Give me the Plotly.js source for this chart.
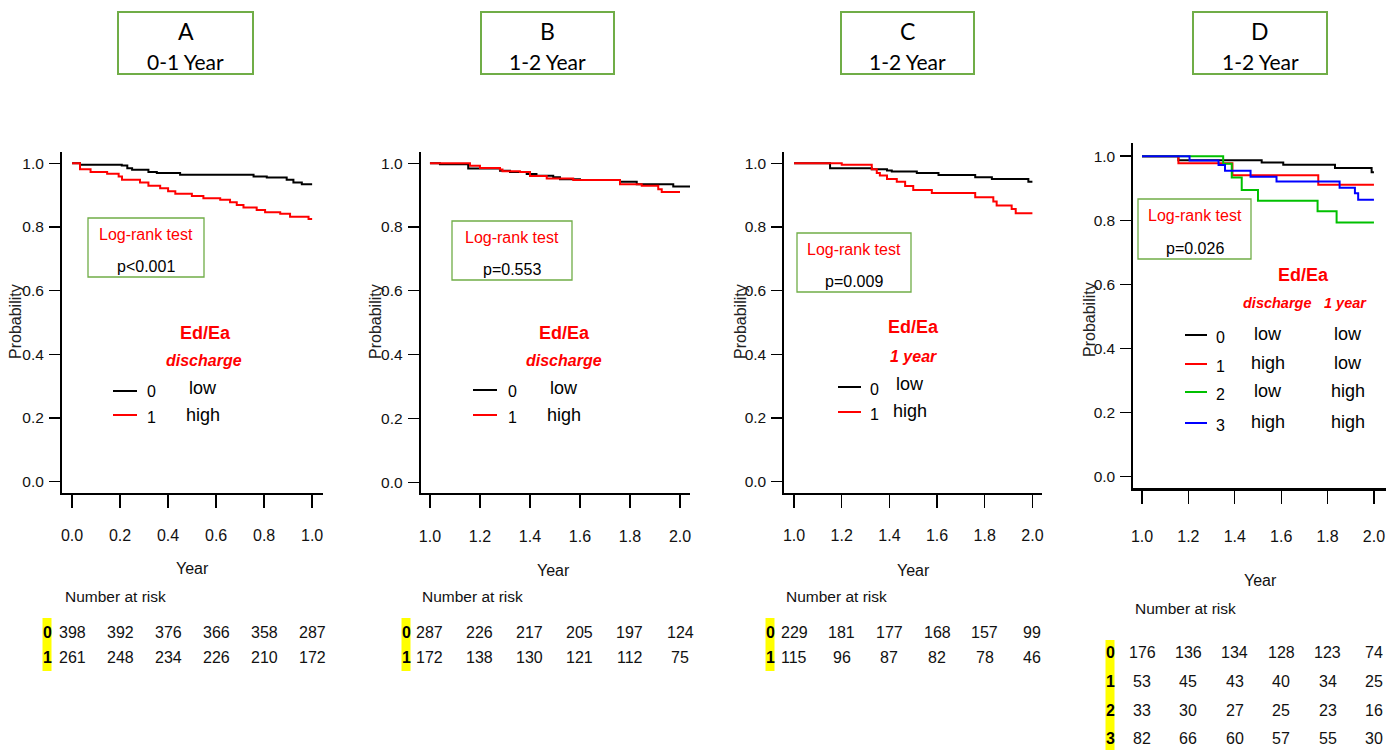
<!DOCTYPE html>
<html>
<head>
<meta charset="utf-8">
<script src="https://cdn.plot.ly/plotly-3.0.1.min.js"></script>
<style>html,body{margin:0;padding:0;background:#fff;}#chart{width:1386px;height:750px;}</style>
</head>
<body>
<div id="chart"></div>
<script>
// ---------- data ----------
// Panel A (0-1 year, Ed/Ea discharge)
const aT0 = [0, 0.033, 0.207, 0.23, 0.25, 0.318, 0.353, 0.45, 0.756, 0.811, 0.894, 0.922, 0.957, 1.0];
const aS0 = [1.0, 0.995, 0.993, 0.984, 0.979, 0.972, 0.969, 0.964, 0.958, 0.955, 0.948, 0.939, 0.934, 0.934];
const aT1 = [0, 0.033, 0.077, 0.146, 0.194, 0.208, 0.283, 0.318, 0.367, 0.40, 0.43, 0.499, 0.547, 0.617, 0.658, 0.686, 0.714, 0.769, 0.804, 0.867, 0.908, 0.985, 1.0];
const aS1 = [1.0, 0.981, 0.972, 0.967, 0.958, 0.948, 0.939, 0.929, 0.921, 0.912, 0.904, 0.897, 0.890, 0.885, 0.877, 0.869, 0.861, 0.853, 0.846, 0.841, 0.832, 0.825, 0.825];
// Panel B (1-2 year, Ed/Ea discharge)
const bT0 = [1.0, 1.04, 1.153, 1.28, 1.32, 1.387, 1.426, 1.493, 1.52, 1.6, 1.76, 1.827, 1.973, 2.04];
const bS0 = [1.0, 0.997, 0.983, 0.976, 0.972, 0.966, 0.961, 0.956, 0.950, 0.947, 0.942, 0.934, 0.927, 0.927];
const bT1 = [1.0, 1.16, 1.2, 1.28, 1.29, 1.36, 1.4, 1.467, 1.573, 1.76, 1.847, 1.913, 1.927, 2.0];
const bS1 = [1.0, 0.992, 0.985, 0.98, 0.975, 0.972, 0.96, 0.952, 0.947, 0.934, 0.929, 0.918, 0.910, 0.910];
// Panel C (1-2 year, Ed/Ea 1 year)
const cT0 = [1.0, 1.151, 1.326, 1.39, 1.41, 1.515, 1.606, 1.76, 1.83, 1.983, 2.0];
const cS0 = [1.0, 0.984, 0.981, 0.977, 0.974, 0.969, 0.963, 0.956, 0.950, 0.942, 0.942];
const cT1 = [1.0, 1.2, 1.326, 1.347, 1.36, 1.39, 1.431, 1.466, 1.5, 1.578, 1.76, 1.836, 1.85, 1.913, 1.93, 2.0];
const cS1 = [1.0, 0.995, 0.981, 0.969, 0.961, 0.950, 0.942, 0.928, 0.916, 0.906, 0.893, 0.880, 0.867, 0.856, 0.843, 0.843];
// Panel D (1-2 year, 4 groups)
const dT0 = [1.0, 1.157, 1.516, 1.609, 1.832, 1.99, 2.0];
const dS0 = [1.0, 0.987, 0.980, 0.973, 0.963, 0.950, 0.950];
const dT1 = [1.0, 1.157, 1.39, 1.76, 2.0];
const dS1 = [1.0, 0.978, 0.94, 0.911, 0.911];
const dT2 = [1.0, 1.35, 1.387, 1.43, 1.50, 1.757, 1.839, 2.0];
const dS2 = [1.0, 0.976, 0.933, 0.894, 0.861, 0.828, 0.793, 0.793];
const dT3 = [1.0, 1.205, 1.33, 1.358, 1.468, 1.58, 1.852, 1.918, 1.932, 2.0];
const dS3 = [1.0, 0.986, 0.972, 0.954, 0.936, 0.921, 0.901, 0.884, 0.864, 0.864];

// tick values / labels
const yTickVals = [0, 0.2, 0.4, 0.6, 0.8, 1.0];
const yTickText = ["0.0", "0.2", "0.4", "0.6", "0.8", "1.0"];
const xTickValsA = [0, 0.2, 0.4, 0.6, 0.8, 1.0];
const xTickTextA = ["0.0", "0.2", "0.4", "0.6", "0.8", "1.0"];
const xTickValsB = [1.0, 1.2, 1.4, 1.6, 1.8, 2.0];
const xTickTextB = ["1.0", "1.2", "1.4", "1.6", "1.8", "2.0"];

// numbers at risk
const riskA = [[398, 392, 376, 366, 358, 287], [261, 248, 234, 226, 210, 172]];
const riskB = [[287, 226, 217, 205, 197, 124], [172, 138, 130, 121, 112, 75]];
const riskC = [[229, 181, 177, 168, 157, 99], [115, 96, 87, 82, 78, 46]];
const riskD = [[176, 136, 134, 128, 123, 74], [53, 45, 43, 40, 34, 25], [33, 30, 27, 25, 23, 16], [82, 66, 60, 57, 55, 30]];

const panelLetters = ["A", "B", "C", "D"];
const panelPeriods = ["0-1 Year", "1-2 Year", "1-2 Year", "1-2 Year"];
const pValues = ["p&lt;0.001", "p=0.553", "p=0.009", "p=0.026"];
const groupColors = ["#000000", "#FF0000", "#00C000", "#0000FF"];

// ---------- layout helpers ----------
const W = 1386, H = 750;
const X = px => px / W;
const Y = py => 1 - py / H;
const NF = "'Liberation Sans', Arial, sans-serif";
const SF = "'Liberation Sans', Arial, sans-serif";
const CF = "Lato, 'Open Sans', sans-serif";
const GREEN = "#70AD47";

const panels = [
  {xa: "x", ya: "y", xd: [62, 322.7], yd: [151.7, 492.7], xr: [-0.042, 1.044], yr: [-0.0345, 1.036], tv: xTickValsA, tt: xTickTextA,
   curves: [[aT0, aS0], [aT1, aS1]], risk: riskA},
  {xa: "x2", ya: "y2", xd: [420.7, 690], yd: [151.7, 493.3], xr: [0.963, 2.04], yr: [-0.0345, 1.036], tv: xTickValsB, tt: xTickTextB,
   curves: [[bT0, bS0], [bT1, bS1]], risk: riskB},
  {xa: "x3", ya: "y3", xd: [784.3, 1041.7], yd: [151.7, 492.7], xr: [0.959, 2.039], yr: [-0.0345, 1.036], tv: xTickValsB, tt: xTickTextB,
   curves: [[cT0, cS0], [cT1, cS1]], risk: riskC},
  {xa: "x4", ya: "y4", xd: [1133.3, 1386], yd: [143.3, 488.3], xr: [0.9625, 2.052], yr: [-0.036, 1.04], tv: xTickValsB, tt: xTickTextB,
   curves: [[dT0, dS0], [dT1, dS1], [dT2, dS2], [dT3, dS3]], risk: riskD}
];

const traces = [];
const layout = {
  width: W, height: H, margin: {l: 0, r: 0, t: 0, b: 0},
  paper_bgcolor: "#fff", plot_bgcolor: "#fff", showlegend: false,
  annotations: [], shapes: []
};

panels.forEach((p, i) => {
  p.curves.forEach((c, g) => {
    traces.push({x: c[0], y: c[1], xaxis: p.xa, yaxis: p.ya, type: "scatter", mode: "lines",
      line: {shape: "hv", color: groupColors[g], width: 2}, hoverinfo: "skip"});
  });
  const sfx = i === 0 ? "" : String(i + 1);
  layout["xaxis" + sfx] = {
    domain: [X(p.xd[0]), X(p.xd[1])], range: p.xr, anchor: p.ya,
    showgrid: false, zeroline: false, showline: true, linecolor: "#000", linewidth: i === 3 ? 3 : 2,
    ticks: "outside", ticklen: 13, tickwidth: 1.3, tickcolor: "#000",
    tickvals: p.tv, ticktext: p.tt, ticklabelstandoff: i === 3 ? 18 : 14, ticklabeloverflow: "allow",
    tickfont: {family: NF, size: 16, color: "#111"}
  };
  layout["yaxis" + sfx] = {
    domain: [Y(p.yd[1]), Y(p.yd[0])], range: p.yr, anchor: p.xa,
    showgrid: false, zeroline: false, showline: true, linecolor: "#000", linewidth: 2,
    ticks: "outside", ticklen: 11, tickwidth: 1.3, tickcolor: "#000",
    tickvals: yTickVals, ticktext: yTickText, ticklabelstandoff: 2, ticklabeloverflow: "allow",
    tickfont: {family: NF, size: 15.5, color: "#111"}
  };
});

function ann(px, py, text, font, extra) {
  layout.annotations.push(Object.assign({xref: "paper", yref: "paper", x: X(px), y: Y(py), text: text,
    showarrow: false, xanchor: "center", yanchor: "middle", font: font}, extra || {}));
}
function rect(x0, y0, x1, y1, line, fill) {
  layout.shapes.push({type: "rect", xref: "paper", yref: "paper", x0: X(x0), x1: X(x1), y0: Y(y1), y1: Y(y0),
    line: line, fillcolor: fill || "rgba(0,0,0,0)", layer: "below"});
}
function seg(x0, x1, y, color) {
  layout.shapes.push({type: "line", xref: "paper", yref: "paper", x0: X(x0), x1: X(x1), y0: Y(y), y1: Y(y),
    line: {color: color, width: 2}});
}

// ---------- top title boxes ----------
const titleBoxes = [[118, 253], [481, 614], [841, 974], [1193, 1327]];
titleBoxes.forEach((b, i) => {
  rect(b[0], 12, b[1], 74, {color: GREEN, width: 2});
  const cx = (b[0] + b[1]) / 2;
  ann(cx, 31, panelLetters[i], {family: CF, size: 23, color: "#000"});
  ann(cx, 61, panelPeriods[i], {family: CF, size: 21, color: "#000"});
});

// ---------- axis titles ----------
const probX = [15, 375, 740, 1089];
const probY = [322, 322, 322, 320];
const yearPos = [[192, 568], [553, 570], [913, 570], [1260, 580]];
panels.forEach((p, i) => {
  ann(probX[i], probY[i], "Probability", {family: SF, size: 16, color: "#222"}, {textangle: -90});
  ann(yearPos[i][0], yearPos[i][1], "Year", {family: NF, size: 16, color: "#111"});
});

// ---------- log-rank boxes ----------
const lrBoxes = [[88, 218, 204, 277], [452, 221, 572, 280], [797, 233, 911, 292], [1138, 199, 1251, 259]];
lrBoxes.forEach((b, i) => {
  rect(b[0], b[1], b[2], b[3], {color: GREEN, width: 1.3});
  const cx = (b[0] + b[2]) / 2;
  const h = b[3] - b[1];
  ann(cx, b[1] + h * 0.28, "Log-rank test", {family: NF, size: 16, color: "#FF0000"});
  ann(cx, b[1] + h * 0.82, pValues[i], {family: NF, size: 16, color: "#000"});
});

// ---------- in-plot legends ----------
const red = "#FF0000";
const fLeg = {family: NF, size: 18, color: "#000"};
const fNum = {family: NF, size: 16, color: "#000"};
const fHead = {family: NF, size: 18, color: red, weight: "bold"};
const fHeadI = {family: NF, size: 16, color: red, weight: "bold", style: "italic"};
const fHeadID = {family: NF, size: 14.5, color: red, weight: "bold", style: "italic"};
// A
ann(205, 333, "Ed/Ea", fHead); ann(204, 360, "discharge", fHeadI);
seg(113, 137, 391, groupColors[0]); seg(113, 137, 415, groupColors[1]);
ann(151, 392, "0", fNum); ann(151, 417, "1", fNum);
ann(203, 388, "low", fLeg); ann(203, 415, "high", fLeg);
// B
ann(564, 333, "Ed/Ea", fHead); ann(564, 360, "discharge", fHeadI);
seg(473, 497, 390, groupColors[0]); seg(473, 497, 415, groupColors[1]);
ann(512, 392, "0", fNum); ann(512, 417, "1", fNum);
ann(564, 388, "low", fLeg); ann(564, 415, "high", fLeg);
// C
ann(913, 327, "Ed/Ea", fHead); ann(913, 356, "1 year", fHeadI);
seg(838, 861, 387, groupColors[0]); seg(838, 861, 412, groupColors[1]);
ann(875, 389, "0", fNum); ann(875, 414, "1", fNum);
ann(910, 384, "low", fLeg); ann(910, 411, "high", fLeg);
// D
ann(1303, 275, "Ed/Ea", fHead);
ann(1277, 303, "discharge", fHeadID); ann(1345, 303, "1 year", fHeadID);
const dRows = [335, 364, 392, 423];
const dCol1 = ["low", "high", "low", "high"];
const dCol2 = ["low", "low", "high", "high"];
dRows.forEach((ry, g) => {
  seg(1185, 1207, ry, groupColors[g]);
  ann(1220, ry + 2, String(g), fNum);
  ann(1268, ry - 1, dCol1[g], fLeg);
  ann(1348, ry - 1, dCol2[g], fLeg);
});

// ---------- number at risk tables ----------
const riskHead = [[63, 596], [420, 596], [784, 596], [1133, 608]];
const riskRows = [[632, 657], [632, 657], [632, 657], [652, 681, 710, 738]];
const yellowX = [47, 406, 770, 1110];
const yellowY = [[618, 671], [618, 671], [618, 671], [640, 750]];
const fRisk = {family: NF, size: 16, color: "#111"};
panels.forEach((p, i) => {
  ann(riskHead[i][0], riskHead[i][1], "Number at risk", {family: NF, size: 15.5, color: "#111"}, {xanchor: "left"});
  rect(yellowX[i] - 4.5, yellowY[i][0], yellowX[i] + 4.5, yellowY[i][1], {width: 0}, "#FFFF00");
  p.risk.forEach((row, g) => {
    const ry = riskRows[i][g];
    ann(yellowX[i], ry, String(g), {family: NF, size: 16, color: "#000", weight: "bold"});
    row.forEach((v, k) => {
      layout.annotations.push({xref: p.xa, yref: "paper", x: p.tv[k], y: Y(ry), text: String(v),
        showarrow: false, xanchor: "center", yanchor: "middle", font: fRisk});
    });
  });
});

Plotly.newPlot("chart", traces, layout, {staticPlot: true, displayModeBar: false});
</script>
</body>
</html>
